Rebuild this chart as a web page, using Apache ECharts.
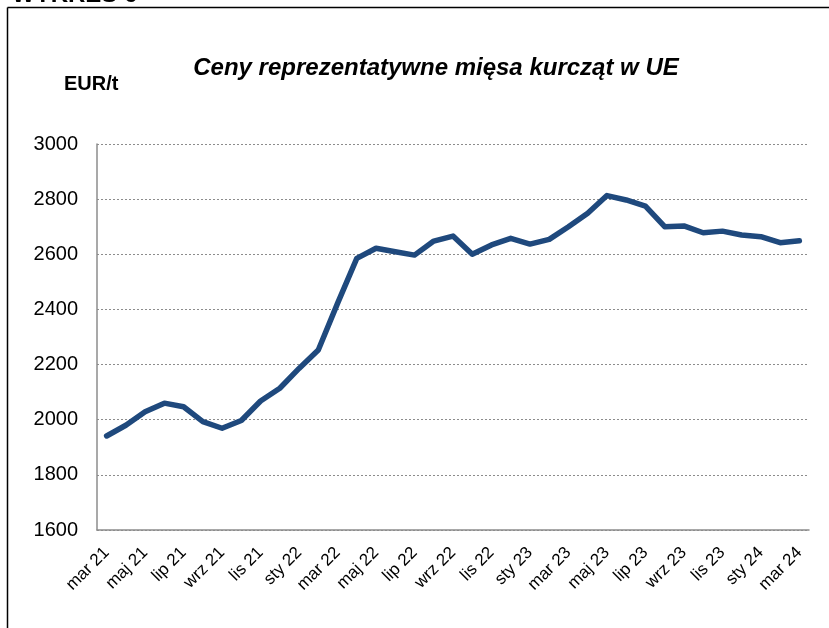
<!DOCTYPE html>
<html>
<head>
<meta charset="utf-8">
<script src="https://cdn.jsdelivr.net/npm/echarts@6/dist/echarts.min.js"></script>
<style>
html,body{margin:0;padding:0;background:#fff;}
#chart{width:829px;height:628px;}
</style>
</head>
<body>
<div id="chart"></div>
<script>
const categories = [
  'mar 21','kwi 21','maj 21','cze 21','lip 21','sie 21','wrz 21','paź 21','lis 21','gru 21',
  'sty 22','lut 22','mar 22','kwi 22','maj 22','cze 22','lip 22','sie 22','wrz 22','paź 22','lis 22','gru 22',
  'sty 23','lut 23','mar 23','kwi 23','maj 23','cze 23','lip 23','sie 23','wrz 23','paź 23','lis 23','gru 23',
  'sty 24','lut 24','mar 24'
];
const prices = [
  1941, 1980, 2029, 2060, 2047, 1993, 1969, 1997, 2068, 2114,
  2186, 2253, 2422, 2585, 2622, 2609, 2597, 2648, 2666, 2600, 2634, 2658,
  2637, 2654, 2700, 2749, 2813, 2797, 2775, 2700, 2703, 2678, 2684, 2670,
  2664, 2642, 2649
];
const yMin = 1600, yMax = 3000, yStep = 200;
const titleText = 'Ceny reprezentatywne mięsa kurcząt w UE';
const unitText = 'EUR/t';
const headerText = 'WYKRES 6';

const chart = echarts.init(document.getElementById('chart'), null, {renderer:'canvas'});
const font = '"Liberation Sans", Arial, sans-serif';
chart.setOption({
  animation: false,
  backgroundColor: '#fff',
  title: [{
    text: titleText,
    left: 431, top: 51, textAlign: 'center',
    textStyle: {fontFamily: font, fontSize: 24, fontWeight: 'bold', fontStyle: 'italic', color: '#000'}
  },{
    text: unitText,
    left: 59, top: 69,
    textStyle: {fontFamily: font, fontSize: 20, fontWeight: 'bold', color: '#000'}
  }],
  graphic: [
    {type:'line', shape:{x1:7.5,y1:7.5,x2:829,y2:7.5}, style:{stroke:'#000', lineWidth:1.5}},
    {type:'line', shape:{x1:7.5,y1:7.5,x2:7.5,y2:628}, style:{stroke:'#000', lineWidth:1.5}},
    {type:'text', left: 12, top: -17, style:{text: headerText, fill:'#000', font:'bold 24px "Liberation Sans", Arial, sans-serif'}}
  ],
  grid: {left: 97, right: 20, top: 144, bottom: 98, containLabel: false},
  xAxis: {
    type: 'category',
    data: categories,
    boundaryGap: true,
    axisLine: {show: true, lineStyle: {color: '#8c8c8c', width: 1.5}},
    axisTick: {show: false},
    axisLabel: {
      interval: 1, rotate: 45, margin: 20,
      fontFamily: font, fontSize: 17, color: '#000'
    }
  },
  yAxis: {
    type: 'value',
    min: yMin, max: yMax, interval: yStep,
    axisLine: {show: true, lineStyle: {color: '#8c8c8c', width: 1.5}},
    axisTick: {show: false},
    axisLabel: {margin: 19, fontFamily: font, fontSize: 20, color: '#000', formatter: v => String(v)},
    splitLine: {show: true, lineStyle: {color: '#8c8c8c', type: [2,2], width: 1}}
  },
  series: [{
    type: 'line',
    data: prices,
    symbol: 'none',
    lineStyle: {color: '#1F497D', width: 5.5, join: 'round', cap: 'round'},
    itemStyle: {color: '#1F497D'}
  }]
});
</script>
</body>
</html>
